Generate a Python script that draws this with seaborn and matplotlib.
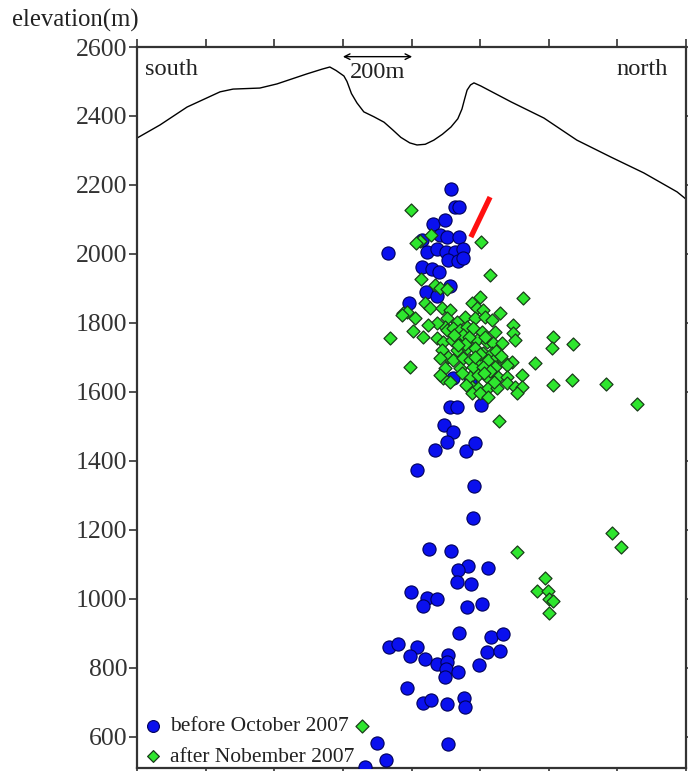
import numpy as np
import pandas as pd
import matplotlib
matplotlib.use("Agg")
import matplotlib.pyplot as plt
import seaborn as sns

# ---------------- data ----------------
# topography profile (distance south->north in m, elevation in m)
topo_x = [0, 67, 146, 242, 280, 358, 408, 495, 540, 562, 580, 603, 612, 625, 641, 661, 690, 720, 745, 769, 795, 816,
          840, 865, 890, 915, 935, 947, 955, 962, 972, 982, 1002, 1090, 1186, 1282, 1381, 1477, 1574, 1600]
topo_e = [2336, 2374, 2426, 2470, 2478, 2481, 2493, 2522, 2536, 2542, 2532, 2516, 2500, 2465, 2438, 2412, 2398, 2382, 2360, 2338, 2322, 2316,
          2318, 2330, 2347, 2368, 2392, 2420, 2450, 2475, 2490, 2496, 2487, 2441, 2394, 2330, 2281, 2235, 2180, 2159]

# hypocenters before October 2007
before_x = [915, 927, 938, 863, 898, 883, 903, 938, 830, 731, 845, 874, 900, 927, 950, 906, 935, 950,
            830, 860, 880, 912, 842, 874, 793, 921, 970, 912, 932, 1002, 895, 921, 903, 868, 959, 985,
            816, 982, 979, 851, 915, 965, 935, 1023, 932, 973, 798, 845, 874, 833, 962, 1005,
            938, 1032, 1067, 734, 761, 816, 796, 839, 874, 906, 903, 900, 898, 935, 997, 1020, 1058,
            787, 833, 857, 903, 953, 956, 699, 726, 664, 906]
before_e = [2188, 2136, 2136, 2087, 2098, 2055, 2049, 2049, 2040, 2003, 2006, 2014, 2006, 2006, 2014, 1983, 1980, 1988,
            1962, 1956, 1948, 1907, 1890, 1878, 1858, 1640, 1629, 1556, 1556, 1562, 1504, 1484, 1455, 1432, 1429, 1452,
            1374, 1327, 1235, 1145, 1139, 1096, 1084, 1090, 1049, 1043, 1020, 1003, 1000, 979, 977, 985,
            901, 890, 898, 861, 869, 861, 834, 826, 811, 837, 817, 797, 774, 788, 808, 846, 849,
            742, 698, 707, 695, 713, 687, 582, 533, 513, 579]

# hypocenters after November 2007
after_x = [798, 857, 825, 813, 1002, 1029, 828, 868, 883, 903, 1125, 1000, 839, 854, 775, 787, 772, 810,
           889, 912, 976, 991, 1008, 1058, 956, 985, 1014, 1034, 903, 932, 898, 874, 848, 1096,
           737, 804, 833, 874, 903, 921, 941, 962, 979, 1005, 1043, 1096, 1101, 892, 918, 941, 965,
           991, 1020, 1037, 1064, 889, 906, 932, 962, 985, 1008, 1034, 883, 921, 950, 970, 994, 1023,
           1049, 1067, 1093, 1160, 796, 898, 941, 979, 1008, 1043, 1078, 892, 912, 970, 994, 1023,
           1052, 1078, 1122, 883, 976, 994, 1023, 1049, 1078, 1101, 1122, 1212, 1209, 1271, 1212,
           1268, 1367, 1457, 976, 1000, 1023, 1107, 1055, 1107, 1384, 1410, 1189, 1166, 1198, 1201,
           1212, 1201, 656,
           950, 968, 1015, 1045, 955, 1000, 925, 948, 1030, 1060, 935, 985, 1010, 960, 1040]
after_e = [2127, 2055, 2038, 2032, 2035, 1939, 1927, 1910, 1901, 1898, 1872, 1875, 1858, 1843, 1829, 1832, 1823, 1814,
           1843, 1838, 1858, 1843, 1838, 1829, 1817, 1814, 1817, 1809, 1814, 1803, 1788, 1800, 1794, 1794,
           1756, 1777, 1759, 1756, 1780, 1785, 1780, 1788, 1785, 1774, 1774, 1771, 1751, 1745, 1751, 1736, 1751,
           1751, 1745, 1742, 1742, 1722, 1701, 1722, 1727, 1727, 1713, 1713, 1698, 1693, 1698, 1693, 1693, 1693,
           1701, 1693, 1687, 1684, 1672, 1669, 1669, 1672, 1672, 1672, 1678, 1640, 1629, 1643, 1649, 1640,
           1643, 1643, 1649, 1649, 1614, 1611, 1611, 1611, 1626, 1614, 1614, 1759, 1727, 1739, 1620,
           1635, 1623, 1565, 1597, 1597, 1585, 1597, 1516, 1136, 1191, 1150, 1061, 1023, 1023, 1000,
           994, 959, 632,
           1765, 1760, 1760, 1720, 1740, 1710, 1765, 1655, 1660, 1705, 1735, 1700, 1655, 1620, 1630]

# red segment
red_x = [973, 1029]
red_e = [2049, 2165]

y_ticks = [600, 800, 1000, 1200, 1400, 1600, 1800, 2000, 2200, 2400, 2600]
x_ticks = [0, 200, 400, 600, 800, 1000, 1200, 1400, 1600]

# ---------------- plot ----------------
sns.set_style("white")
plt.rcParams['font.family'] = ['Liberation Serif', 'DejaVu Serif']

fig = plt.figure(figsize=(6.88, 7.71), dpi=100)
ax = fig.add_axes([137/688, 1-768/771, (686-137)/688, (768-47)/771])

topo = pd.DataFrame({"x": topo_x, "e": topo_e})
sns.lineplot(data=topo, x="x", y="e", ax=ax, color="black", lw=1.0, sort=False)

df_b = pd.DataFrame({"x": before_x, "e": before_e})
df_a = pd.DataFrame({"x": after_x, "e": after_e})
sns.scatterplot(data=df_b, x="x", y="e", ax=ax, marker="o", s=90, color="#0a10ee",
                edgecolor="#00005a", linewidth=0.8, label="before October 2007", zorder=3)
sns.scatterplot(data=df_a, x="x", y="e", ax=ax, marker="D", s=44, color="#2ee62e",
                edgecolor="#1a3d1a", linewidth=0.9, label="after Nobember 2007", zorder=4)

ax.plot(red_x, red_e, color="#ff1010", lw=3.8, solid_capstyle="butt", zorder=5)

ax.set_xlim(0, 1600)
ax.set_ylim(510, 2600)
ax.set_yticks(y_ticks)
ax.set_yticklabels([str(v) for v in y_ticks], fontsize=18.5, color="#222222")
ax.set_xticks(x_ticks)
ax.set_xticklabels([])
ax.set_xlabel("")
ax.set_ylabel("")
ax.tick_params(axis="y", left=True, right=True, direction="out", length=6, width=1.2, colors="#333333", pad=1)
ax.tick_params(axis="x", top=True, bottom=True, direction="out", length=6, width=1.2, colors="#333333")
for sp in ax.spines.values():
    sp.set_color("#333333")
    sp.set_linewidth(1.6)

# annotations
ax.annotate("", xy=(600, 2572), xytext=(802, 2572),
            arrowprops=dict(arrowstyle="<->", color="black", lw=1.0, shrinkA=0, shrinkB=0))
ax.text(702, 2527, "200m", fontsize=17.6, ha="center", va="center", color="#222222")
ax.text(23, 2535, "south", fontsize=17.6, ha="left", va="center", color="#222222")
ax.text(1398, 2535, "north", fontsize=17.6, ha="left", va="center", color="#222222")
fig.text(12/688, 1-20/771, "elevation(m)", fontsize=17.8, ha="left", va="center", color="#222222")

leg = ax.legend(loc="lower left", bbox_to_anchor=(0.009, 0.002), frameon=False, fontsize=15.5,
                handlelength=1.0, handletextpad=0.32, borderaxespad=0, borderpad=0,
                labelspacing=0.48, markerscale=0.9)
for t in leg.get_texts():
    t.set_color("#222222")

fig.savefig("out.png", dpi=100)
